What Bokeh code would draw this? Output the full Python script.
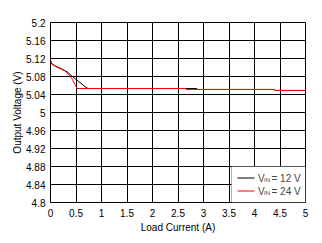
from bokeh.plotting import figure
from bokeh.models import FixedTicker, Label, BoxAnnotation
from bokeh.embed import file_html
from bokeh.resources import INLINE

# data
x_12 = [0.0, 0.03, 0.1, 0.2, 0.33, 0.43, 0.55, 0.65, 0.72, 0.75, 1.5, 2.87, 2.88, 4.39, 4.4, 5.0]
y_12 = [5.116, 5.108, 5.103, 5.098, 5.090, 5.080, 5.069, 5.060, 5.054, 5.0533, 5.0533, 5.0533, 5.0512, 5.0512, 5.0490, 5.0490]
x_24 = [0.0, 0.03, 0.1, 0.2, 0.29, 0.36, 0.42, 0.49, 0.52, 1.0, 2.0, 2.65, 2.66, 4.39, 4.4, 5.0]
y_24 = [5.116, 5.107, 5.102, 5.097, 5.092, 5.084, 5.075, 5.060, 5.0533, 5.0533, 5.0533, 5.0533, 5.0512, 5.0512, 5.0490, 5.0490]
x_ticks = [0, 0.5, 1, 1.5, 2, 2.5, 3, 3.5, 4, 4.5, 5]
x_tick_labels = ["0", "0.5", "1", "1.5", "2", "2.5", "3", "3.5", "4", "4.5", "5"]
y_ticks = [4.8, 4.84, 4.88, 4.92, 4.96, 5.0, 5.04, 5.08, 5.12, 5.16, 5.2]
y_tick_labels = ["4.8", "4.84", "4.88", "4.92", "4.96", "5", "5.04", "5.08", "5.12", "5.16", "5.2"]
legend_labels = ["= 12 V", "= 24 V"]
FONT = "Liberation Sans"

p = figure(width=322, height=243, output_backend="svg", toolbar_location=None,
           x_range=(0, 5), y_range=(4.8, 5.2),
           min_border_left=50, min_border_right=17, min_border_top=22, min_border_bottom=41)
p.outline_line_color = "black"
p.outline_line_width = 1

for ax in (p.xaxis[0], p.yaxis[0]):
    ax.major_tick_line_color = None
    ax.minor_tick_line_color = None
    ax.major_tick_out = 0
    ax.major_tick_in = 0
    ax.minor_tick_out = 0
    ax.minor_tick_in = 0
    ax.axis_line_color = None
    ax.major_label_text_font = FONT
    ax.major_label_text_font_size = "10px"
    ax.major_label_text_color = "black"
    ax.axis_label_text_font = FONT
    ax.axis_label_text_font_size = "10px"
    ax.axis_label_text_font_style = "normal"
    ax.axis_label_text_color = "black"

p.xaxis.ticker = FixedTicker(ticks=x_ticks)
p.xaxis.major_label_overrides = {t: l for t, l in zip(x_ticks, x_tick_labels)}
p.yaxis.ticker = FixedTicker(ticks=y_ticks)
p.yaxis.major_label_overrides = {t: l for t, l in zip(y_ticks, y_tick_labels)}
p.xaxis.axis_label = "Load Current (A)"
p.yaxis.axis_label = "Output Voltage (V)"
p.xaxis.major_label_standoff = 6
p.yaxis.major_label_standoff = 5
p.xaxis.axis_label_standoff = 2
p.yaxis.axis_label_standoff = 0

p.xgrid.grid_line_color = "black"
p.ygrid.grid_line_color = "black"
p.xgrid.grid_line_alpha = 1
p.ygrid.grid_line_alpha = 1

p.line(x_12, y_12, line_color="black", line_width=1)
p.line(x_24, y_24, line_color="red", line_width=1)

# legend (screen units relative to frame)
p.add_layout(BoxAnnotation(left=181, right=255, top=36, bottom=0,
                           left_units="screen", right_units="screen",
                           top_units="screen", bottom_units="screen",
                           fill_color="white", fill_alpha=1, line_color="black", line_width=1))
for i, (lab, col) in enumerate(zip(legend_labels, ["black", "red"])):
    yy = 24.5 - i * 13
    p.add_layout(BoxAnnotation(left=187, right=204, top=yy + 0.5, bottom=yy - 0.5,
                               left_units="screen", right_units="screen",
                               top_units="screen", bottom_units="screen",
                               fill_color=col, fill_alpha=1, line_color=None))
    p.add_layout(Label(x=207.5, y=yy, x_units="screen", y_units="screen", text="V",
                       text_font=FONT, text_font_size="10px", text_baseline="middle"))
    p.add_layout(Label(x=213.5, y=yy - 1.5, x_units="screen", y_units="screen", text="IN",
                       text_font=FONT, text_font_size="6px", text_baseline="middle"))
    p.add_layout(Label(x=221, y=yy, x_units="screen", y_units="screen", text=lab,
                       text_font=FONT, text_font_size="10px", text_baseline="middle"))

open("out.html", "w").write(file_html(p, INLINE))
